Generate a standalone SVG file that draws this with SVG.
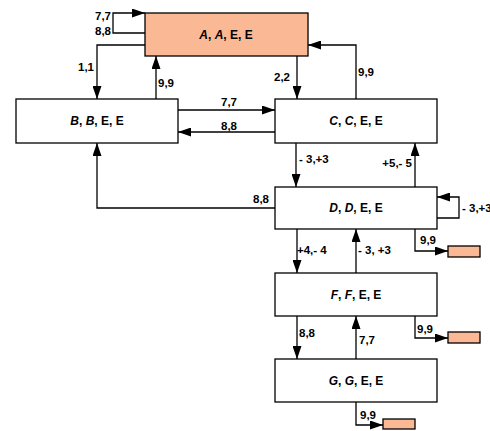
<svg xmlns="http://www.w3.org/2000/svg" width="490" height="431" viewBox="0 0 490 431">
  <style>
    .box { fill: #ffffff; stroke: #000000; stroke-width: 1.3; }
    .hot { fill: #fbb895; stroke: #000000; stroke-width: 1.3; }
    .wire { fill: none; stroke: #000000; stroke-width: 1.3; }
    .arr { marker-end: url(#head); }
    .name { font-family: "Liberation Sans", Arial, sans-serif; font-size: 12px; font-weight: bold; text-anchor: middle; }
    .lbl { font-family: "Liberation Sans", Arial, sans-serif; font-size: 11.5px; font-weight: bold; }
    .r { text-anchor: end; }
  </style>
  <defs>
    <marker id="head" markerUnits="userSpaceOnUse" markerWidth="14" markerHeight="9" refX="13" refY="4.5" orient="auto">
      <path d="M0,0 L13,4.5 L0,9 Z" fill="#000000"/>
    </marker>
  </defs>
  <rect width="490" height="431" fill="#ffffff"/>

  <g id="connectors">
    <!-- A self loop -->
    <polyline class="wire arr" points="145,33 113,33 113,13 145,13"/>
    <!-- A -> B -->
    <polyline class="wire arr" points="145,45 97,45 97,99"/>
    <!-- B -> A -->
    <polyline class="wire arr" points="156,99 156,56"/>
    <!-- A -> C -->
    <polyline class="wire arr" points="297,56 297,99"/>
    <!-- C -> A -->
    <polyline class="wire arr" points="356,99 356,45 308,45"/>
    <!-- B -> C -->
    <polyline class="wire arr" points="178,110 275,110"/>
    <!-- C -> B -->
    <polyline class="wire arr" points="275,132 178,132"/>
    <!-- C -> D -->
    <polyline class="wire arr" points="296,143 296,187"/>
    <!-- D -> C -->
    <polyline class="wire arr" points="415,187 415,143"/>
    <!-- D -> B -->
    <polyline class="wire arr" points="275,208 97,208 97,143"/>
    <!-- D self loop -->
    <polyline class="wire arr" points="437,218 459,218 459,197 437,197"/>
    <!-- D -> F -->
    <polyline class="wire arr" points="297,229 297,273"/>
    <!-- F -> D -->
    <polyline class="wire arr" points="356,273 356,229"/>
    <!-- D exit -->
    <polyline class="wire arr" points="415,229 415,251 448,251"/>
    <!-- F -> G -->
    <polyline class="wire arr" points="297,316 297,359"/>
    <!-- G -> F -->
    <polyline class="wire arr" points="356,359 356,316"/>
    <!-- F exit -->
    <polyline class="wire arr" points="415,316 415,338 448,338"/>
    <!-- G exit -->
    <polyline class="wire arr" points="356,402 356,425 383,425"/>
  </g>

  <g id="edge-labels">
    <text class="lbl r" x="111" y="20">7,7</text>
    <text class="lbl r" x="111" y="35">8,8</text>
    <text class="lbl r" x="94" y="71">1,1</text>
    <text class="lbl" x="158" y="87">9,9</text>
    <text class="lbl r" x="290" y="81">2,2</text>
    <text class="lbl" x="358" y="76">9,9</text>
    <text class="lbl" x="221" y="106">7,7</text>
    <text class="lbl" x="221" y="130">8,8</text>
    <text class="lbl" x="299" y="163">- 3,+3</text>
    <text class="lbl r" x="412" y="167">+5,- 5</text>
    <text class="lbl r" x="269" y="203">8,8</text>
    <text class="lbl" x="462" y="212">- 3,+3</text>
    <text class="lbl" x="297" y="254">+4,- 4</text>
    <text class="lbl" x="358" y="254">- 3, +3</text>
    <text class="lbl" x="420" y="244">9,9</text>
    <text class="lbl" x="299" y="337">8,8</text>
    <text class="lbl" x="359" y="344">7,7</text>
    <text class="lbl" x="417" y="333">9,9</text>
    <text class="lbl" x="360" y="419">9,9</text>
  </g>

  <g id="node-A">
    <rect class="hot" x="145" y="13" width="163" height="43"/>
    <text class="name" x="226" y="39"><tspan font-style="italic">A</tspan>, <tspan font-style="italic">A</tspan>, E, E</text>
  </g>
  <g id="node-B">
    <rect class="box" x="16" y="99" width="162" height="44"/>
    <text class="name" x="97" y="125"><tspan font-style="italic">B</tspan>, <tspan font-style="italic">B</tspan>, E, E</text>
  </g>
  <g id="node-C">
    <rect class="box" x="275" y="99" width="162" height="44"/>
    <text class="name" x="356" y="125"><tspan font-style="italic">C</tspan>, <tspan font-style="italic">C</tspan>, E, E</text>
  </g>
  <g id="node-D">
    <rect class="box" x="275" y="187" width="162" height="42"/>
    <text class="name" x="356" y="212"><tspan font-style="italic">D</tspan>, <tspan font-style="italic">D</tspan>, E, E</text>
  </g>
  <g id="node-F">
    <rect class="box" x="275" y="273" width="162" height="43"/>
    <text class="name" x="356" y="299"><tspan font-style="italic">F</tspan>, <tspan font-style="italic">F</tspan>, E, E</text>
  </g>
  <g id="node-G">
    <rect class="box" x="275" y="359" width="162" height="43"/>
    <text class="name" x="356" y="385"><tspan font-style="italic">G</tspan>, <tspan font-style="italic">G</tspan>, E, E</text>
  </g>
  <g id="sink-D">
    <rect class="hot" x="448" y="246" width="32" height="11"/>
  </g>
  <g id="sink-F">
    <rect class="hot" x="448" y="332" width="32" height="11"/>
  </g>
  <g id="sink-G">
    <rect class="hot" x="383" y="419" width="32" height="10"/>
  </g>
</svg>
